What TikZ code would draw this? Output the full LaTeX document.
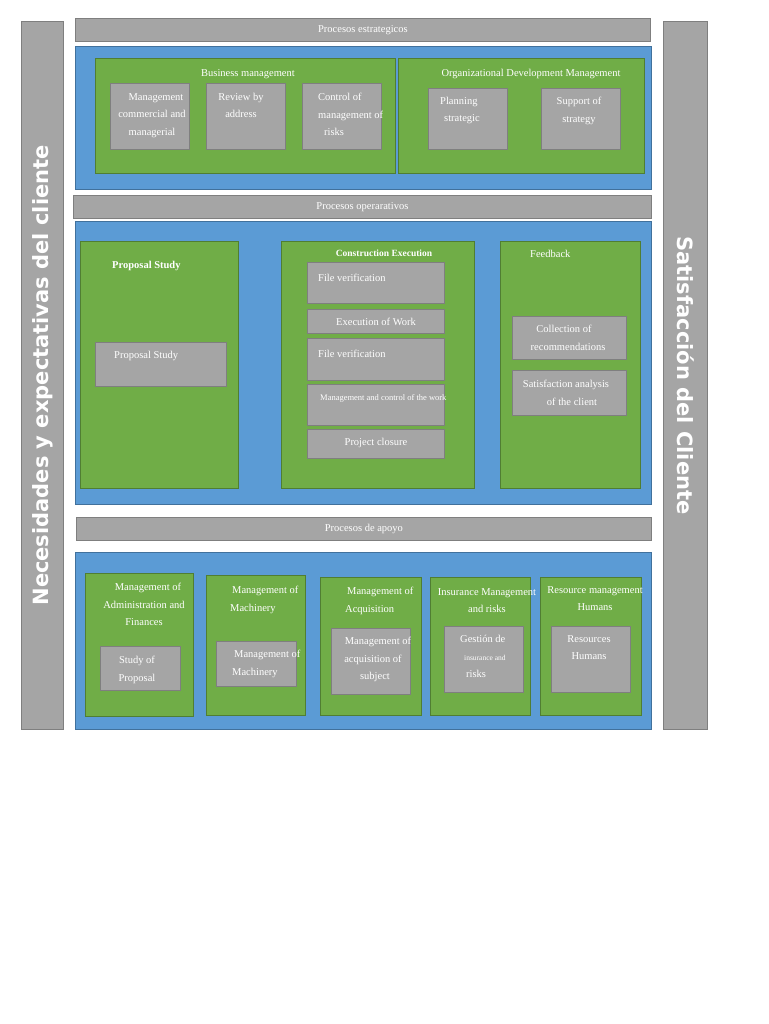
\documentclass[tikz,border=0pt]{standalone}
\usepackage{fontspec}
\setmainfont{Liberation Serif}
\newfontfamily\sidefont{DejaVu Sans}
\usetikzlibrary{positioning}
\definecolor{boxgray}{HTML}{A5A5A5}
\definecolor{edgegray}{HTML}{7F7F7F}
\definecolor{bandblue}{HTML}{5B9BD5}
\definecolor{edgeblue}{HTML}{41719C}
\definecolor{panelgreen}{HTML}{70AD47}
\definecolor{edgegreen}{HTML}{507E32}
\begin{document}
\begin{tikzpicture}[x=1pt,y=-1pt,
    box/.style={anchor=north west, inner sep=0pt, line width=0.8pt},
    hdr/.style={box, fill=boxgray, draw=edgegray},
    band/.style={box, fill=bandblue, draw=edgeblue},
    panel/.style={box, fill=panelgreen, draw=edgegreen},
    item/.style={box, fill=boxgray, draw=edgegray},
    txt/.style={text=white, font=\fontsize{10.5}{17.5}\selectfont, align=center, inner sep=0pt, anchor=north, yshift=-4pt},
    ltxt/.style={txt, align=left, anchor=north west},
    btxt/.style={txt, font=\bfseries\fontsize{10.5}{17.5}\selectfont},
    htxt/.style={text=white, font=\fontsize{10.5}{12}\selectfont, inner sep=0pt},
    small/.style={font=\fontsize{8.5}{17.5}\selectfont},
    sidetxt/.style={text=white, font=\sidefont\bfseries\fontsize{21}{24}\selectfont, inner sep=0pt}]
  \useasboundingbox (0,0) rectangle (768,1024);
  % side bars
  \node[hdr, minimum width=42pt, minimum height=708pt] (need) at (21,21) {};
  \node[hdr, minimum width=44pt, minimum height=708pt] (sat) at (663,21) {};
  \node[sidetxt, rotate=90] at (need.center) {Necesidades y expectativas del cliente};
  \node[sidetxt, rotate=-90] at (sat.center) {Satisfacción del Cliente};
  % procesos estrategicos
  \node[hdr, minimum width=575pt, minimum height=23pt] (est) at (75,18) {};
  \node[htxt] at (est.center) {Procesos estrategicos};
  \node[band, minimum width=576pt, minimum height=143pt] (b1) at (75,46) {};
  \node[panel, minimum width=300pt, minimum height=115pt] (bm) at (95,58) {};
  \node[panel, minimum width=246pt, minimum height=115pt] (odm) at (398,58) {};
  \node[txt] at (248,65) {Business management};
  \node[txt] at (531,65) {Organizational Development Management};
  \node[item, minimum width=79pt, minimum height=66pt] (bm1) at (110,83) {};
  \node[item, minimum width=79pt, minimum height=66pt] (bm2) at (206,83) {};
  \node[item, minimum width=79pt, minimum height=66pt] (bm3) at (302,83) {};
  \node[txt] at (152,89) {\hspace*{8pt}Management\\commercial and\\managerial};
  \node[txt] at (241,89) {Review by\\address};
  \node[ltxt] at (318,89) {Control of\\management of\\\hspace*{6pt}risks};
  \node[item, minimum width=79pt, minimum height=61pt] (od1) at (428,88) {};
  \node[item, minimum width=79pt, minimum height=61pt] (od2) at (541,88) {};
  \node[ltxt] at (440,93) {Planning\\\hspace*{4pt}strategic};
  \node[txt] at (579,93) {Support of\\strategy};
  % procesos operarativos
  \node[hdr, minimum width=578pt, minimum height=23pt] (ope) at (73,195) {};
  \node[htxt] at (ope.center) {Procesos operarativos};
  \node[band, minimum width=576pt, minimum height=283pt] (b2) at (75,221) {};
  \node[panel, minimum width=158pt, minimum height=247pt] (ps) at (80,241) {};
  \node[panel, minimum width=193pt, minimum height=247pt] (ce) at (281,241) {};
  \node[panel, minimum width=140pt, minimum height=247pt] (fb) at (500,241) {};
  \node[btxt, anchor=north west] at (112,257) {Proposal Study};
  \node[btxt, font=\bfseries\fontsize{9.5}{12}\selectfont] at (384,246) {Construction Execution};
  \node[ltxt] at (530,246) {Feedback};
  \node[item, minimum width=131pt, minimum height=44pt] (ps1) at (95,342) {};
  \node[ltxt] at (114,347) {Proposal Study};
  \node[item, minimum width=137pt, minimum height=41pt] (ce1) at (307,262) {};
  \node[item, minimum width=137pt, minimum height=24pt] (ce2) at (307,309) {};
  \node[item, minimum width=137pt, minimum height=42pt] (ce3) at (307,338) {};
  \node[item, minimum width=137pt, minimum height=41pt] (ce4) at (307,384) {};
  \node[item, minimum width=137pt, minimum height=29pt] (ce5) at (307,429) {};
  \node[ltxt] at (318,270) {File verification};
  \node[txt] at (376,314) {Execution of Work};
  \node[ltxt] at (318,346) {File verification};
  \node[ltxt, small] at (320,390) {Management and control of the work};
  \node[txt] at (376,434) {Project closure};
  \node[item, minimum width=114pt, minimum height=43pt] (fb1) at (512,316) {};
  \node[item, minimum width=114pt, minimum height=45pt] (fb2) at (512,370) {};
  \node[txt] at (568,321) {\hspace*{-8pt}Collection of\\recommendations};
  \node[txt] at (566,376) {Satisfaction analysis\\\hspace*{12pt}of the client};
  % procesos de apoyo
  \node[hdr, minimum width=575pt, minimum height=23pt] (apo) at (76,517) {};
  \node[htxt] at (apo.center) {Procesos de apoyo};
  \node[band, minimum width=576pt, minimum height=177pt] (b3) at (75,552) {};
  \node[panel, minimum width=108pt, minimum height=143pt] (g1) at (85,573) {};
  \node[panel, minimum width=99pt, minimum height=140pt] (g2) at (206,575) {};
  \node[panel, minimum width=101pt, minimum height=138pt] (g3) at (320,577) {};
  \node[panel, minimum width=100pt, minimum height=138pt] (g4) at (430,577) {};
  \node[panel, minimum width=101pt, minimum height=138pt] (g5) at (540,577) {};
  \node[txt] at (144,579) {\hspace*{8pt}Management of\\Administration and\\Finances};
  \node[ltxt] at (230,582) {\hspace*{2pt}Management of\\Machinery};
  \node[ltxt] at (345,583) {\hspace*{2pt}Management of\\Acquisition};
  \node[txt] at (487,584) {Insurance Management\\and risks};
  \node[txt] at (595,582) {Resource management\\Humans};
  \node[item, minimum width=80pt, minimum height=44pt] (s1) at (100,646) {};
  \node[item, minimum width=80pt, minimum height=45pt] (s2) at (216,641) {};
  \node[item, minimum width=79pt, minimum height=66pt] (s3) at (331,628) {};
  \node[item, minimum width=79pt, minimum height=66pt] (s4) at (444,626) {};
  \node[item, minimum width=79pt, minimum height=66pt] (s5) at (551,626) {};
  \node[txt] at (137,652) {Study of\\Proposal};
  \node[ltxt] at (232,646) {\hspace*{2pt}Management of\\Machinery};
  \node[txt] at (373,633) {\hspace*{10pt}Management of\\acquisition of\\\hspace*{4pt}subject};
  \node[ltxt] at (460,631) {Gestión de\\\hspace*{4pt}{\fontsize{7.5}{10}\selectfont insurance and}\\\hspace*{6pt}risks};
  \node[txt] at (589,631) {Resources\\Humans};
\end{tikzpicture}
\end{document}
